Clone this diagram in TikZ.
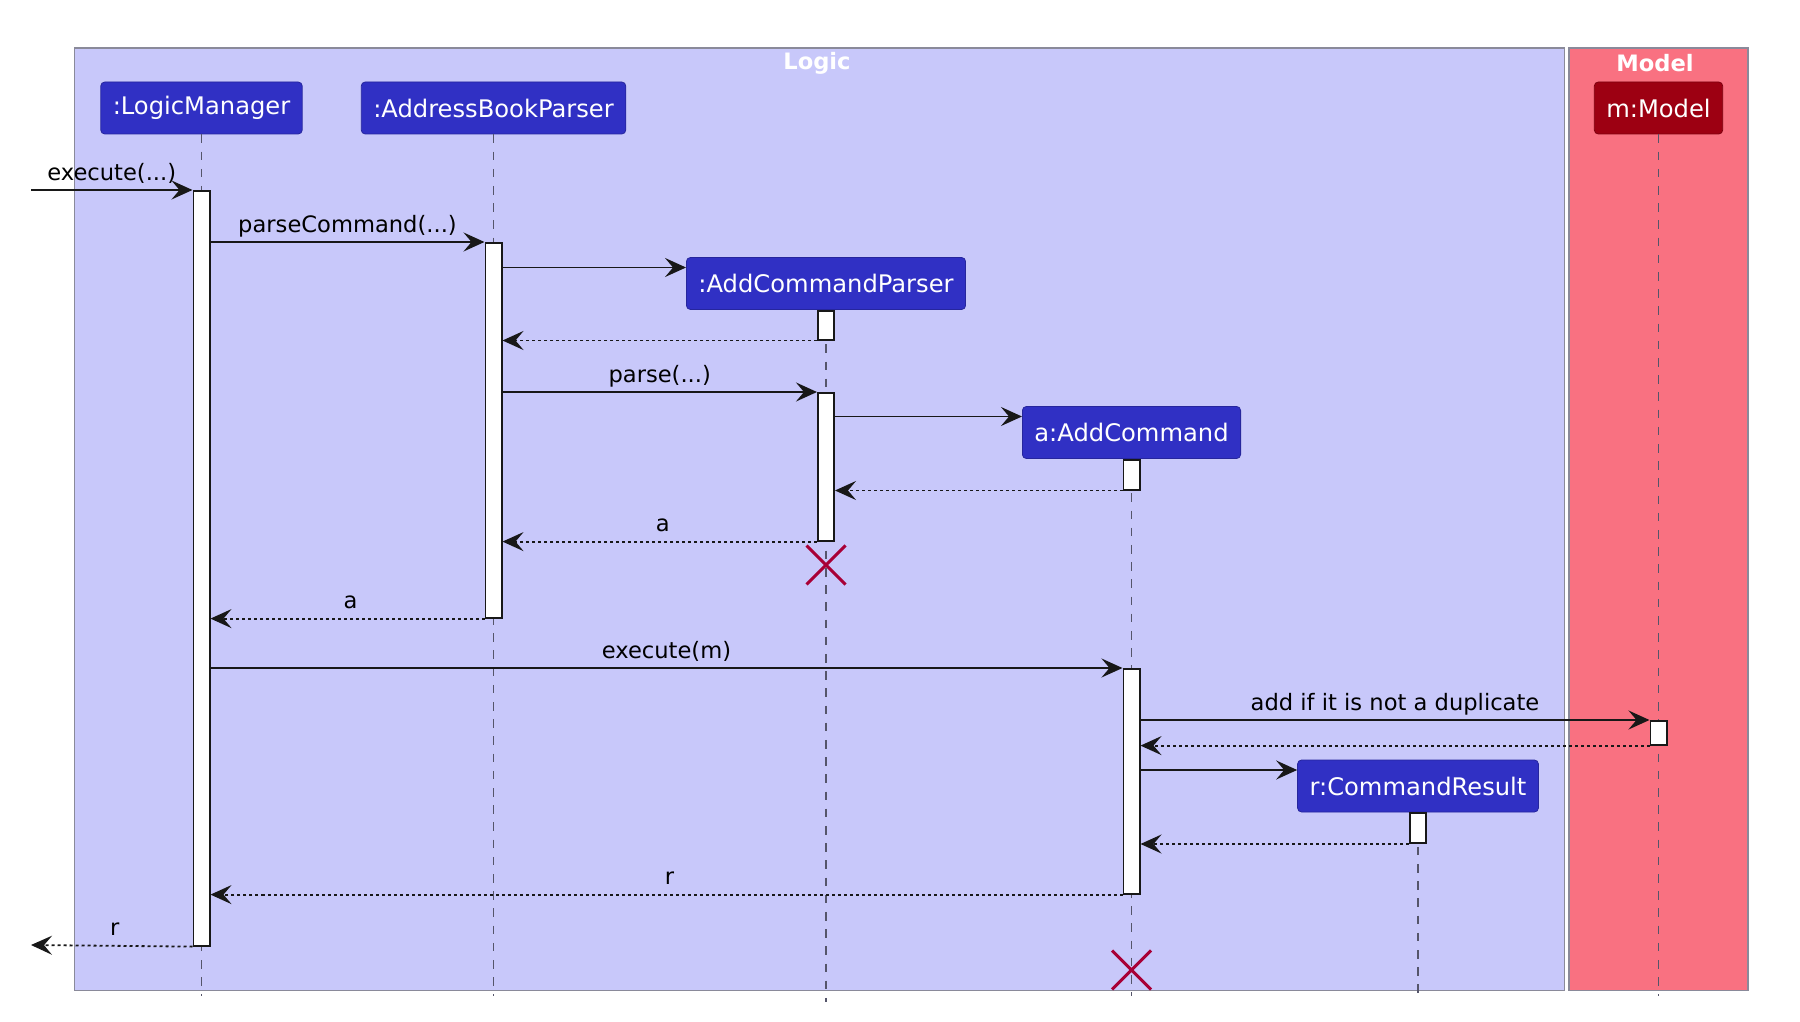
\documentclass[tikz,border=0pt]{standalone}
\usepackage{fontspec}
\setmainfont{DejaVu Sans}
\usetikzlibrary{arrows.meta,shapes.misc}
\definecolor{logicbg}{HTML}{C8C8FA}
\definecolor{logicfg}{HTML}{3030C4}
\definecolor{modelbg}{HTML}{F97181}
\definecolor{modelfg}{HTML}{9D0012}
\definecolor{framec}{HTML}{8A8A9A}
\definecolor{linec}{HTML}{181818}
\definecolor{lifec}{HTML}{55556A}
\definecolor{destroyc}{HTML}{A80036}
\begin{document}
\begin{tikzpicture}[x=.5pt, y=-.5pt,
  every node/.style={font=\fontsize{11.3}{13}\selectfont},
  part/.style={draw=logicfg!80!black, fill=logicfg, text=white, rounded corners=2pt,
    minimum height=26pt, inner xsep=6pt, font=\fontsize{12.1}{14}\selectfont},
  act/.style={draw=linec, fill=white, line width=.8pt, minimum width=8.2pt, inner sep=0pt, anchor=north},
  msg/.style={draw=linec, line width=.9pt, -{Stealth[length=10.5pt,width=9.5pt,inset=4pt]}},
  ret/.style={msg, dash pattern=on 1.5pt off 1.5pt},
  life/.style={draw=lifec, line width=.65pt, dash pattern=on 4.3pt off 4.3pt},
  lbl/.style={above=1pt, inner sep=1pt, text depth=.25em},
  destroy/.style={cross out, draw=destroyc, line width=1.5pt, minimum size=18pt, inner sep=0pt},
  frametitle/.style={text=white, font=\bfseries\fontsize{11.3}{13}\selectfont}]
  \useasboundingbox (0,0) rectangle (1800,1022);

  \draw[fill=logicbg, draw=framec, line width=.75pt] (74.6,48.2) rectangle (1564.7,990.7);
  \draw[fill=modelbg, draw=framec, line width=.75pt] (1569,48.2) rectangle (1748,990.7);
  \node[frametitle] (logictitle) at (817,63) {Logic};
  \node[frametitle] (modeltitle) at (1655,63) {Model};

  \node[part] (lm)  at (201.5,108)  {:LogicManager};
  \node[part] (abp) at (493.5,108)  {:AddressBookParser};
  \node[part, fill=modelfg, draw=modelfg!80!black] (mdl) at (1658.5,108) {m:Model};
  \node[part] (acp) at (826,283.5)  {:AddCommandParser};
  \node[part] (ac)  at (1131.5,432.5) {a:AddCommand};
  \node[part] (cr)  at (1418,786)   {r:CommandResult};

  \coordinate (bot)   at (0,996);
  \coordinate (entry) at (31,190);
  \coordinate (exit)  at (31,945);

  \draw[life] (lm.south)  -- (lm.south |- bot);
  \draw[life] (abp.south) -- (abp.south |- bot);
  \draw[life] (mdl.south) -- (mdl.south |- bot);
  \draw[life] (acp.south) -- (acp.south |- 0,1002);
  \draw[life] (ac.south)  -- (ac.south |- bot);
  \draw[life] (cr.south)  -- (cr.south |- bot);

  \node[act, minimum height=377.5pt] (lmact)   at (lm.south |- 0,190)  {};
  \node[act, minimum height=187.5pt] (abpact)  at (abp.south |- 0,242) {};
  \node[act, minimum height=14.5pt]  (acpact1) at (acp.south) {};
  \node[act, minimum height=74pt]    (acpact2) at (acp.south |- 0,392) {};
  \node[act, minimum height=15pt]    (acact1)  at (ac.south) {};
  \node[act, minimum height=112.5pt] (acact2)  at (ac.south |- 0,668)  {};
  \node[act, minimum height=12pt]    (mdlact)  at (mdl.south |- 0,720) {};
  \node[act, minimum height=15pt]    (cract)   at (cr.south) {};

  \draw[msg] (entry) -- (lmact.north west) node[lbl, midway] (execlbl) {execute(...)};
  \draw[msg] (lmact.east |- abpact.north) -- (abpact.north west) node[lbl, midway] (parsecmdlbl) {parseCommand(...)};
  \draw[msg] ([yshift=8pt]abpact.east |- acp.west) -- ([yshift=8pt]acp.west);
  \draw[ret] (acpact1.south west) -- (abpact.east |- acpact1.south);
  \draw[msg] (abpact.east |- acpact2.north) -- (acpact2.north west) node[lbl, midway] (parselbl) {parse(...)};
  \draw[msg] ([yshift=8pt]acpact2.east |- ac.west) -- ([yshift=8pt]ac.west);
  \draw[ret] (acact1.south west) -- (acpact2.east |- acact1.south);
  \draw[ret] (acpact2.south west) -- (abpact.east |- acpact2.south) node[lbl, midway, xshift=1.5pt] (albl1) {a};
  \draw[ret] (abpact.south west) -- (lmact.east |- abpact.south) node[lbl, midway, xshift=1.5pt] (albl2) {a};
  \draw[msg] (lmact.east |- acact2.north) -- (acact2.north west) node[lbl, midway] (execmlbl) {execute(m)};
  \draw[msg] (acact2.east |- mdlact.north) -- (mdlact.north west) node[lbl, midway] (addlbl) {add if it is not a duplicate};
  \draw[ret] (mdlact.south west) -- (acact2.east |- mdlact.south);
  \draw[msg] ([yshift=8pt]acact2.east |- cr.west) -- ([yshift=8pt]cr.west);
  \draw[ret] (cract.south west) -- (acact2.east |- cract.south);
  \draw[ret] (acact2.south west) -- (lmact.east |- acact2.south) node[lbl, midway, xshift=1.5pt] (rlbl1) {r};
  \draw[ret] (lmact.south west) -- (exit) node[lbl, midway, xshift=1.5pt] (rlbl2) {r};

  \node[destroy] (acpx) at (acp.south |- 0,565) {};
  \node[destroy] (acx)  at (ac.south |- 0,970)  {};
\end{tikzpicture}
\end{document}
